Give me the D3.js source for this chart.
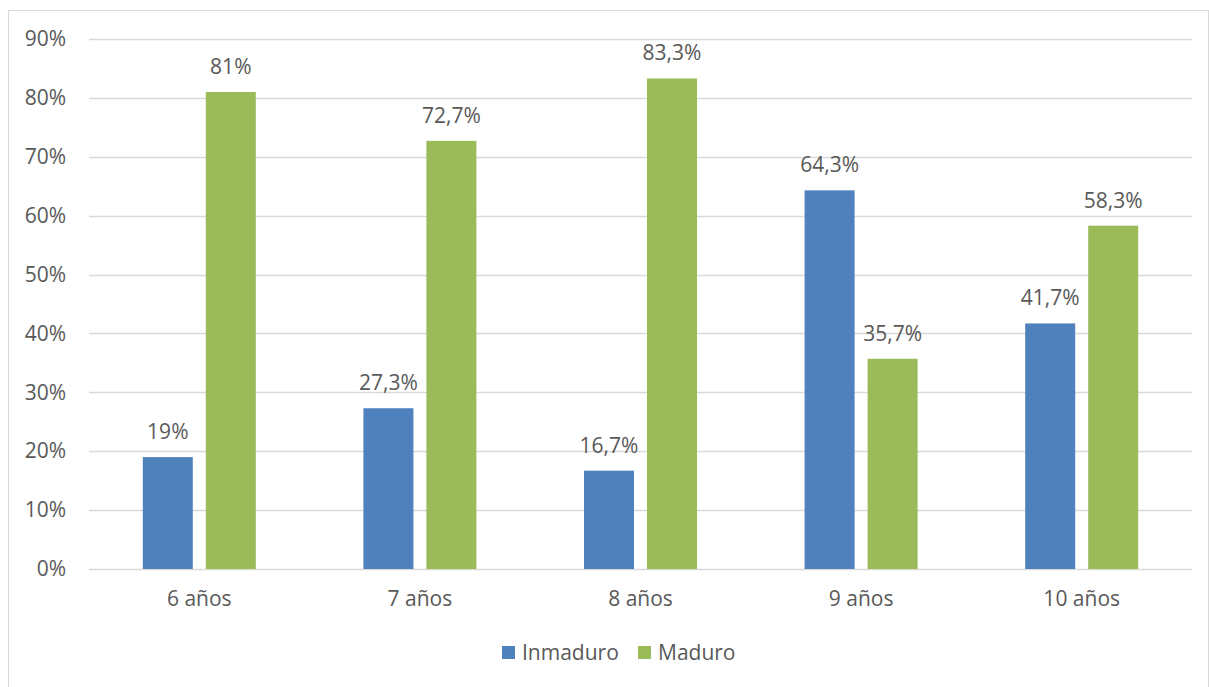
<!DOCTYPE html>
<html>
<head>
<meta charset="utf-8">
<script src="https://cdn.jsdelivr.net/npm/d3@7"></script>
<style>
  html, body { margin: 0; padding: 0; background: #fff; }
  svg { display: block; }
  text { font-family: "Open Sans", "Noto Sans", sans-serif; fill: #595959; }
</style>
</head>
<body>
<svg id="chart" width="1209" height="687"></svg>
<script>
// Madurez por edad
const categories = ["6 años", "7 años", "8 años", "9 años", "10 años"];
const seriesNames = ["Inmaduro", "Maduro"];
const inmaduro = [19, 27.3, 16.7, 64.3, 41.7];
const maduro = [81, 72.7, 83.3, 35.7, 58.3];
const labelsInmaduro = ["19%", "27,3%", "16,7%", "64,3%", "41,7%"];
const labelsMaduro = ["81%", "72,7%", "83,3%", "35,7%", "58,3%"];
const yTicks = [0, 10, 20, 30, 40, 50, 60, 70, 80, 90];
const colors = ["#4f81bd", "#9bbb59"];

const fontSize = "21px";
const svg = d3.select("#chart");

// chart frame
svg.append("rect")
  .attr("x", 8.5).attr("y", 10.5)
  .attr("width", 1200).attr("height", 690)
  .attr("fill", "#fff").attr("stroke", "#d9d9d9").attr("stroke-width", 1);

const plotLeft = 89, plotRight = 1192, plotTop = 39, plotBottom = 569;

const x = d3.scaleBand().domain(categories).range([plotLeft, plotRight]).paddingInner(0).paddingOuter(0);
const y = d3.scaleLinear().domain([0, 90]).range([plotBottom, plotTop]);

// gridlines
svg.append("g").selectAll("line").data(yTicks).join("line")
  .attr("x1", plotLeft).attr("x2", plotRight)
  .attr("y1", d => Math.round(y(d)) + 0.5).attr("y2", d => Math.round(y(d)) + 0.5)
  .attr("stroke", "#d9d9d9").attr("stroke-width", 1.3);

// y-axis tick labels
const yAxis = d3.axisLeft(y).tickValues(yTicks).tickFormat(d => d + "%").tickSize(0).tickPadding(23);
const yg = svg.append("g").attr("transform", `translate(${plotLeft},0)`).call(yAxis);
yg.select(".domain").remove();
yg.selectAll("text").style("font-size", fontSize).attr("fill", "#595959")
  .style("font-family", "'Open Sans', 'Noto Sans', sans-serif");

// bars
const barW = 50, gap = 13;
const inner = d3.scaleBand().domain(seriesNames).range([0, 2 * barW + gap]).paddingInner(gap / (barW + gap));

const data = categories.map((c, i) => ({
  cat: c,
  vals: [
    { s: seriesNames[0], v: inmaduro[i], lab: labelsInmaduro[i] },
    { s: seriesNames[1], v: maduro[i], lab: labelsMaduro[i] }
  ]
}));

const groups = svg.append("g").selectAll("g").data(data).join("g")
  .attr("transform", d => `translate(${x(d.cat) + x.bandwidth() / 2 - (2 * barW + gap) / 2},0)`);

groups.selectAll("rect").data(d => d.vals).join("rect")
  .attr("x", d => inner(d.s))
  .attr("width", inner.bandwidth())
  .attr("y", d => y(d.v))
  .attr("height", d => y(0) - y(d.v))
  .attr("fill", (d, i) => colors[i]);

groups.selectAll("text").data(d => d.vals).join("text")
  .attr("x", d => inner(d.s) + inner.bandwidth() / 2)
  .attr("y", d => y(d.v) - 18)
  .attr("text-anchor", "middle")
  .style("font-size", fontSize)
  .text(d => d.lab);

// category labels
const xAxis = d3.axisBottom(x).tickSize(0).tickPadding(22);
const xg = svg.append("g").attr("transform", `translate(0,${plotBottom})`).call(xAxis);
xg.select(".domain").remove();
xg.selectAll("text").style("font-size", fontSize).attr("fill", "#595959")
  .style("font-family", "'Open Sans', 'Noto Sans', sans-serif");

// legend
const legendItems = [
  { name: seriesNames[0], color: colors[0], x: 502 },
  { name: seriesNames[1], color: colors[1], x: 638 }
];
const lg = svg.append("g").selectAll("g").data(legendItems).join("g")
  .attr("transform", d => `translate(${d.x},646)`);
lg.append("rect").attr("width", 13).attr("height", 13).attr("fill", d => d.color);
lg.append("text").attr("x", 20).attr("y", 14).style("font-size", fontSize).text(d => d.name);
</script>
</body>
</html>
